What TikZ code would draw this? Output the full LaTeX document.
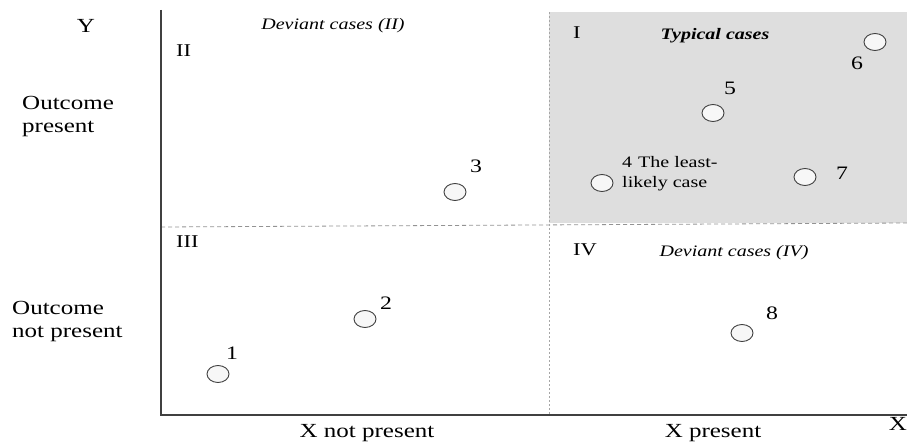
\documentclass[tikz,border=0pt]{standalone}
\usepackage{fontspec}
\setmainfont{Liberation Serif}[FakeStretch=1.25]
\usetikzlibrary{shapes.geometric}
\tikzset{
	case/.style={ellipse, draw=black!75, fill=gray!6, line width=0.9pt, minimum width=22pt, minimum height=17pt, inner sep=0pt},
	num/.style={font=\fontsize{19}{20}\selectfont, inner sep=0pt},
	axislab/.style={font=\fontsize{20}{23}\selectfont, inner sep=0pt},
	quad/.style={font=\fontsize{18}{20}\selectfont, inner sep=0pt, anchor=base west},
	heading/.style={font=\fontsize{16}{20}\selectfont\itshape, inner sep=0pt, anchor=base},
}
\begin{document}
\begin{tikzpicture}[x=1pt,y=-1pt]
	\def\xsplit{549}
	\useasboundingbox (0,0) rectangle (907,446);
	\fill [gray!26] (\xsplit,12) rectangle (907,223);
	\coordinate (ytop) at (161,10);
	\coordinate (origin) at (161,415);
	\coordinate (xend) at (907,415);
	\coordinate (hleft) at (161,227);
	\coordinate (hright) at (907,223);
	\coordinate (vtop) at (\xsplit,12);
	\coordinate (vbot) at (\xsplit,415);
	\draw [gray!85, dash pattern=on 4pt off 3pt, line width=0.8pt] (hleft) -- (hright);
	\draw [gray!70, dash pattern=on 2pt off 2pt, line width=0.8pt] (vtop) -- (vbot);
	\draw [black!75, line width=1.4pt] (ytop) -- (origin) -- (xend);
	\node [axislab, anchor=base] (ylab) at (86,33) {Y};
	\node [axislab, anchor=base] (xlab) at (898,430) {X};
	\node [axislab, align=left, anchor=base west] (yhigh) at (22,133) {Outcome\\present};
	\node [axislab, align=left, anchor=base west] (ylow) at (12,337) {Outcome\\not present};
	\node [axislab, anchor=base] (xlow) at (367,437) {X not present};
	\node [axislab, anchor=base] (xhigh) at (713,437) {X present};
	\node [quad] (q2) at (176,57) {II};
	\node [quad] (q1) at (573,39) {I};
	\node [quad] (q3) at (176,248) {III};
	\node [quad] (q4) at (573,255) {IV};
	\node [heading] (dev2) at (333,30) {Deviant cases (II)};
	\node [heading, font=\fontsize{16}{20}\selectfont\bfseries\itshape] (typical) at (715,40) {Typical cases};
	\node [heading] (dev4) at (734,257) {Deviant cases (IV)};
	\foreach \n/\cx/\cy/\lx/\ly in {1/218/374/232/353, 2/365/319/386/303, 3/455/192/476/166, 5/713/113/730/88, 6/875/42/857/63, 7/805/177/842/173, 8/742/333/772/313}
	{
	\node [case] (c\n) at (\cx,\cy) {};
	\node [num] (n\n) at (\lx,\ly) {\n};
	}
	\node [case] (c4) at (602,183) {};
	\node [font=\fontsize{16}{20}\selectfont, inner sep=0pt, align=left, anchor=base west] (least) at (622,188) {4\hspace{6pt}The least-\\likely case};
\end{tikzpicture}
\end{document}
